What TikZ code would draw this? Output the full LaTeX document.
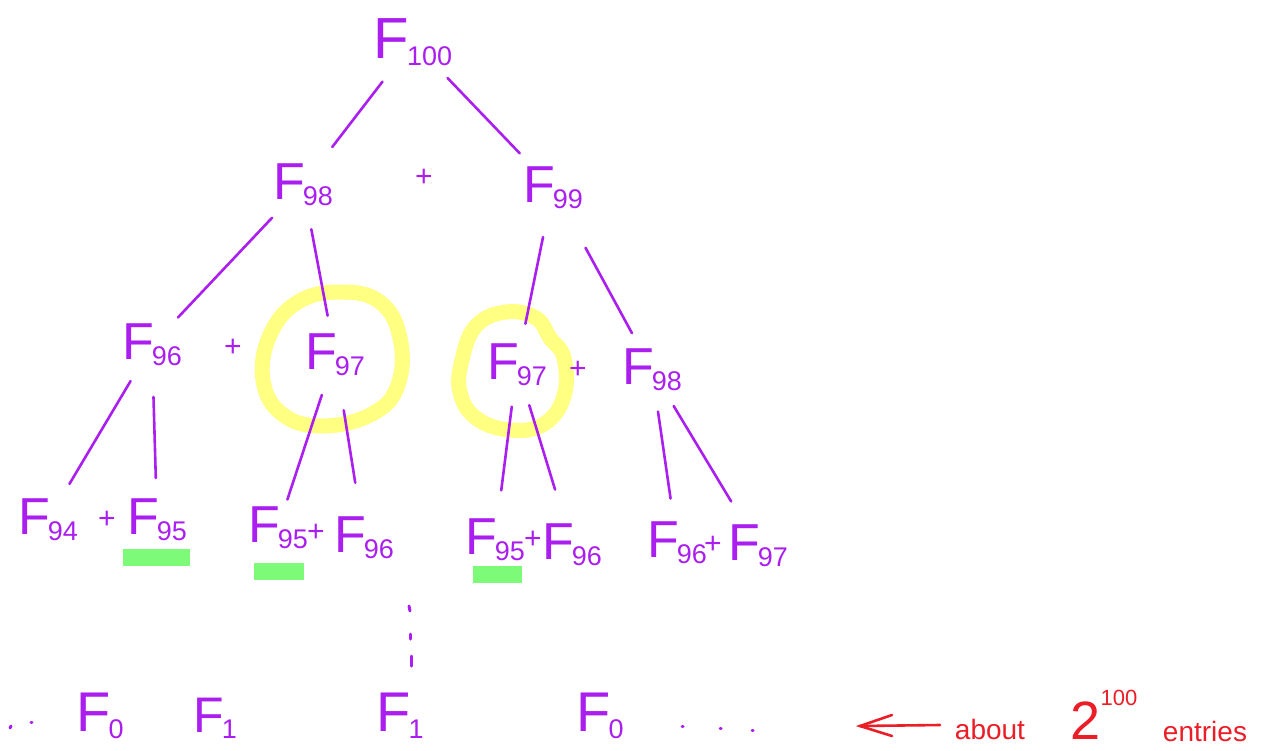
\documentclass[tikz,border=0pt]{standalone}
\usepackage{fontspec}
\setmainfont{Liberation Sans}
\definecolor{pen}{RGB}{170,30,240}
\definecolor{redpen}{RGB}{235,30,40}
\definecolor{hlyellow}{RGB}{255,255,130}
\definecolor{hlgreen}{RGB}{125,250,120}
\newcommand\Fib[2][52]{\fontsize{#1}{#1}\selectfont F\kern-2pt\raisebox{-0.12em}{\fontsize{27}{27}\selectfont #2}}
\tikzset{
  lbl/.style={text=pen, inner sep=0pt},
  plus/.style={text=pen, inner sep=0pt, font=\fontsize{30}{30}\selectfont},
  edge/.style={draw=pen, line width=2.6pt, line cap=round, shorten >=42pt, shorten <=42pt},
  hly/.style={draw=hlyellow, line width=15pt},
  hlg/.style={fill=hlgreen, draw=none},
  dotm/.style={draw=pen, line width=3pt, line cap=round},
}
\begin{document}
\begin{tikzpicture}[x=1pt,y=-1pt]
\useasboundingbox (0,0) rectangle (1266,750);
% highlights
\draw[hly] plot[smooth cycle, tension=0.7] coordinates {(340,292) (380,302) (400,338) (398,385) (372,414) (322,426) (282,414) (263,380) (270,335) (298,302)};
\draw[hly] plot[smooth cycle, tension=0.7] coordinates {(462,360) (476,326) (506,312) (536,318) (550,338) (564,358) (564,396) (544,424) (510,430) (476,418) (460,392)};
\fill[hlg] (123,549) rectangle (190,566);
\fill[hlg] (254,563) rectangle (304,580);
\fill[hlg] (473,566) rectangle (522,583);
% level 1
\node[lbl] (f100) at (413,42) {\Fib[58]{100}};
% level 2
\node[lbl] (f98a) at (303,185) {\Fib{98}};
\node[plus] (p1) at (424,178) {+};
\node[lbl] (f99) at (553,188) {\Fib{99}};
% level 3
\node[lbl] (f96a) at (152,345) {\Fib{96}};
\node[plus] (p2) at (233,348) {+};
\node[lbl] (f97a) at (335,355) {\Fib{97}};
\node[lbl] (f97b) at (517,365) {\Fib{97}};
\node[plus] (p3) at (578,370) {+};
\node[lbl] (f98b) at (652,370) {\Fib{98}};
% level 4
\node[lbl] (f94) at (48,520) {\Fib{94}};
\node[plus] (p4) at (107,520) {+};
\node[lbl] (f95a) at (157,520) {\Fib{95}};
\node[lbl] (f95b) at (278,528) {\Fib{95}};
\node[plus] (p5) at (316,533) {+};
\node[lbl] (f96b) at (364,538) {\Fib{96}};
\node[lbl] (f95c) at (495,540) {\Fib{95}};
\node[plus] (p6) at (533,540) {+};
\node[lbl] (f96c) at (572,545) {\Fib{96}};
\node[lbl] (f96d) at (677,543) {\Fib{96}};
\node[plus] (p7) at (713,545) {+};
\node[lbl] (f97c) at (758,546) {\Fib{97}};
% edges
\draw[edge, shorten <=50pt, shorten >=48pt] (f100.center) -- (f98a.center);
\draw[edge, shorten <=50pt, shorten >=48pt] (f100.center) -- (f99.center);
\draw[edge, shorten <=45pt, shorten >=38pt] (f98a.center) -- (f96a.center);
\draw[edge, shorten <=45pt, shorten >=40pt] (f98a.center) -- (f97a.center);
\draw[edge, shorten <=50pt] (f99.center) -- (f97b.center);
\draw[edge, shorten <=68pt] (f99.center) -- (f98b.center);
\draw[edge] (f96a.center) -- (f94.center);
\draw[edge, shorten <=52pt] (f96a.center) -- (f95a.center);
\draw[edge, shorten >=30pt] (f97a.center) -- (f95b.center);
\draw[edge, shorten <=56pt, shorten >=56pt] (f97a.center) -- (f96b.center);
\draw[edge, shorten >=50pt] (f97b.center) -- (f95c.center);
\draw[edge, shorten >=58pt] (f97b.center) -- (f96c.center);
\draw[edge, shorten >=45pt] (f98b.center) -- (f96d.center);
\draw[edge, shorten >=52pt] (f98b.center) -- (f97c.center);
% vertical dots
\draw[dotm] (409,606) -- (410,611);
\draw[dotm] (410,634) -- (410,639);
\draw[dotm] (411,656) -- (411,666);
% bottom row
\draw[dotm] (10,728) -- (11,726);
\draw[dotm] (31,722) -- (32,722);
\node[lbl] (b0) at (100,716) {\Fib[56]{0}};
\node[lbl] (b1) at (215,718) {\Fib[50]{1}};
\node[lbl] (b2) at (400,716) {\Fib[56]{1}};
\node[lbl] (b3) at (600,716) {\Fib[56]{0}};
\draw[dotm] (682,726) -- (683,726);
\draw[dotm] (720,728) -- (721,728);
\draw[dotm] (752,730) -- (753,730);
% annotation
\coordinate (arrs) at (940,725);
\node[inner sep=0pt, text=redpen, font=\fontsize{28}{28}\selectfont] (about) at (990,729) {about};
\node[inner sep=0pt, text=redpen, font=\fontsize{54}{54}\selectfont, anchor=base] (two) at (1104,739) {2\raisebox{0.62em}{\fontsize{22}{22}\selectfont 100}};
\node[inner sep=0pt, text=redpen, font=\fontsize{28}{28}\selectfont] (entries) at (1205,731) {entries};
\draw[redpen, line width=2.6pt, line cap=round] (arrs) -- (860,726);
\draw[redpen, line width=2.6pt, line cap=round] (892,715) -- (860,726) -- (892,736);
\end{tikzpicture}
\end{document}
